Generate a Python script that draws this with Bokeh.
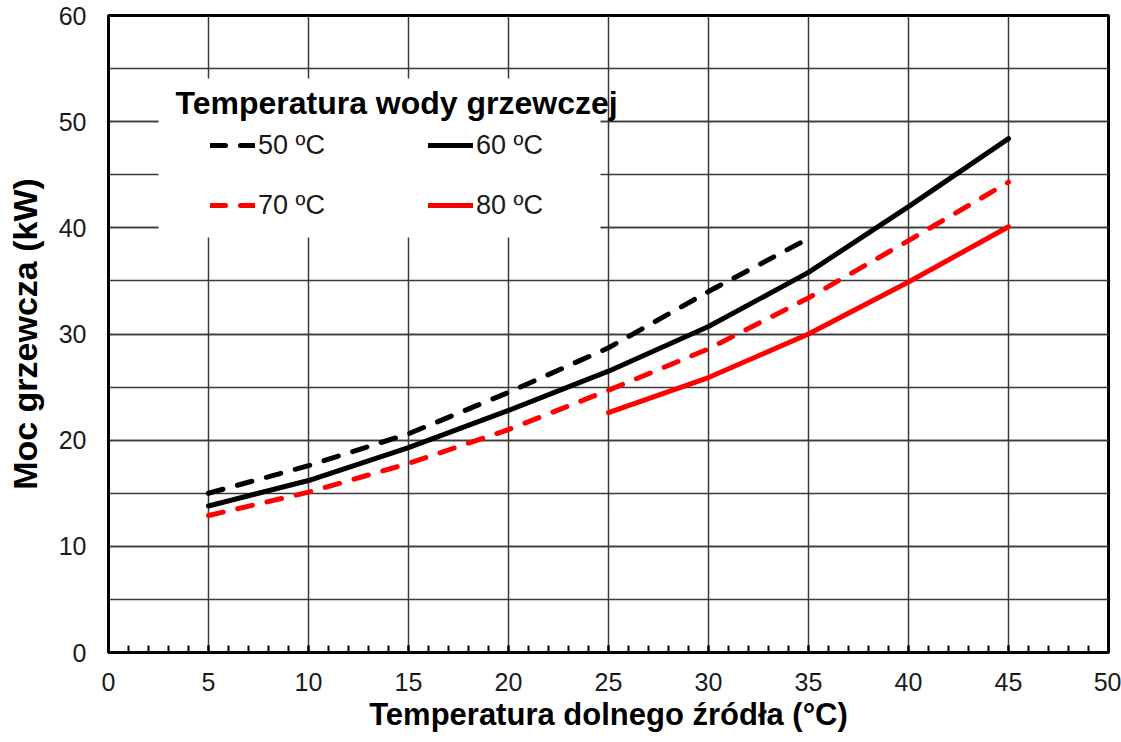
from bokeh.plotting import figure
from bokeh.models import (Legend, LegendItem, Label, BoxAnnotation,
                          SingleIntervalTicker, Range1d)
from bokeh.embed import file_html
from bokeh.resources import INLINE

# ---- data ----
x_50 = [5, 10, 15, 20, 25, 30, 35]
y_50 = [15.0, 17.6, 20.6, 24.5, 28.7, 34.0, 39.0]
x_60 = [5, 10, 15, 20, 25, 30, 35, 40, 45]
y_60 = [13.8, 16.2, 19.3, 22.8, 26.5, 30.7, 35.8, 42.0, 48.4]
x_70 = [5, 10, 15, 20, 25, 30, 35, 40, 45]
y_70 = [12.9, 15.1, 17.8, 21.0, 24.7, 28.6, 33.4, 38.8, 44.3]
x_80 = [25, 30, 35, 40, 45]
y_80 = [22.6, 25.9, 30.0, 34.9, 40.1]
series_labels = ["50 ºC", "60 ºC", "70 ºC", "80 ºC"]
legend_title = "Temperatura wody grzewczej"
x_title = "Temperatura dolnego źródła (°C)"
y_title = "Moc grzewcza (kW)"

FONT = "Liberation Sans"
RED = "#ff0000"

p = figure(width=1121, height=742, x_range=Range1d(0, 50), y_range=Range1d(0, 60),
           output_backend="svg", toolbar_location=None,
           min_border_left=108, min_border_right=13, min_border_top=15, min_border_bottom=90)
p.background_fill_color = "white"
p.border_fill_color = "white"
p.outline_line_color = "black"
p.outline_line_width = 3
p.outline_line_alpha = 1

p.xaxis.ticker = SingleIntervalTicker(interval=5, num_minor_ticks=5)
p.yaxis.ticker = SingleIntervalTicker(interval=10, num_minor_ticks=2)

for ax in (p.xaxis[0], p.yaxis[0]):
    ax.axis_line_color = "black"
    ax.axis_line_width = 3
    ax.major_label_text_font = FONT
    ax.major_label_text_font_size = "25px"
    ax.major_label_text_color = "#1a1a1a"
    ax.axis_label_text_font = FONT
    ax.axis_label_text_font_style = "bold"
    ax.axis_label_text_color = "black"
    ax.major_tick_line_color = "black"
    ax.minor_tick_line_color = "black"
    ax.major_tick_line_width = 2
    ax.minor_tick_line_width = 2
    ax.major_tick_out = 0
    ax.minor_tick_out = 0

p.xaxis.axis_label = x_title
p.xaxis.axis_label_text_font_size = "31px"
p.xaxis.major_tick_in = 7
p.xaxis.minor_tick_in = 7
p.xaxis.major_label_standoff = 20
p.xaxis.axis_label_standoff = 3

p.yaxis.axis_label = y_title
p.yaxis.axis_label_text_font_size = "34px"
p.yaxis.major_tick_in = 0
p.yaxis.minor_tick_in = 0
p.yaxis.major_label_standoff = 22
p.yaxis.axis_label_standoff = 12

GRID = "#3a3a3a"
p.xgrid.grid_line_color = GRID
p.xgrid.grid_line_width = 1.5
p.ygrid.grid_line_color = GRID
p.ygrid.grid_line_width = 1.5
p.ygrid.minor_grid_line_color = GRID
p.ygrid.minor_grid_line_width = 1.5

DASH = "15 15"
r50 = p.line(x_50, y_50, line_color="black", line_width=5, line_dash=DASH, line_cap="round")
r60 = p.line(x_60, y_60, line_color="black", line_width=5, line_cap="round")
r70 = p.line(x_70, y_70, line_color=RED, line_width=5, line_dash=DASH, line_cap="round")
r80 = p.line(x_80, y_80, line_color=RED, line_width=5, line_cap="round")

# legend background
box = BoxAnnotation(left=50, right=492, top=574, bottom=415,
                    left_units="screen", right_units="screen",
                    top_units="screen", bottom_units="screen",
                    fill_color="white", fill_alpha=1, line_color=None)
p.add_layout(box)

legend = Legend(items=[LegendItem(label=series_labels[0], renderers=[r50]),
                       LegendItem(label=series_labels[1], renderers=[r60]),
                       LegendItem(label=series_labels[2], renderers=[r70]),
                       LegendItem(label=series_labels[3], renderers=[r80])],
                location=(102, 422), orientation="horizontal", ncols=2,
                glyph_width=45, glyph_height=50, label_width=160, label_height=50,
                label_standoff=3, spacing=10, padding=0, margin=0,
                background_fill_alpha=0, border_line_color=None,
                label_text_font=FONT, label_text_font_size="27px",
                label_text_color="#1a1a1a")
p.add_layout(legend)

title = Label(x=67, y=550, x_units="screen", y_units="screen", text=legend_title,
              text_font=FONT, text_font_size="32px", text_font_style="bold",
              text_baseline="middle", text_color="black")
p.add_layout(title)

open("out.html", "w").write(file_html(p, INLINE))
